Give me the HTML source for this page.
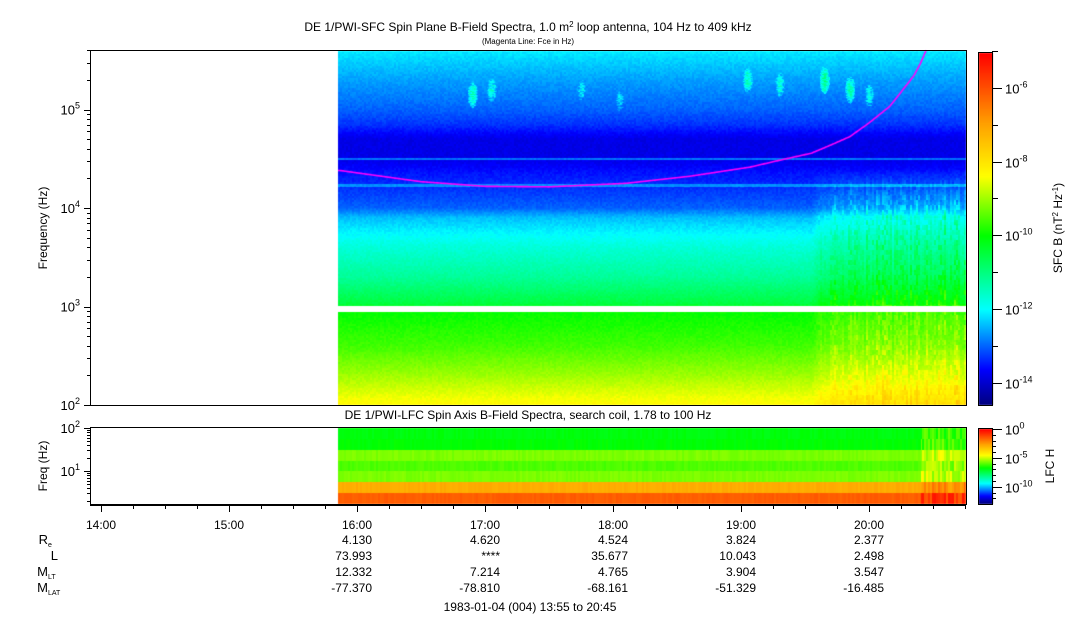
<!DOCTYPE html>
<html><head><meta charset="utf-8"><style>
html,body{margin:0;padding:0;background:#fff;}
#wrap{position:relative;width:1083px;height:620px;overflow:hidden;font-family:"Liberation Sans",Arial,sans-serif;}
canvas{position:absolute;left:0;top:0;}
svg{position:absolute;left:0;top:0;}
text{font-family:"Liberation Sans",Arial,sans-serif;fill:#000;}
</style></head><body>
<div id="wrap">
<canvas id="cv" width="1083" height="620"></canvas>
<svg id="sv" width="1083" height="620">
<text x="528" y="31" font-size="12" text-anchor="middle">DE 1/PWI-SFC  Spin Plane B-Field Spectra, 1.0 m<tspan font-size="8" dy="-4">2</tspan><tspan dy="4"> loop antenna, 104 Hz to 409 kHz</tspan></text>
<text x="528" y="44" font-size="8" text-anchor="middle">(Magenta Line: Fce in Hz)</text>
<text x="528" y="419" font-size="12" text-anchor="middle">DE 1/PWI-LFC  Spin Axis B-Field Spectra, search coil, 1.78 to 100 Hz</text>
<text transform="translate(47,228) rotate(-90)" font-size="12" text-anchor="middle">Frequency (Hz)</text>
<text transform="translate(47,466) rotate(-90)" font-size="12" text-anchor="middle">Freq (Hz)</text>
<text transform="translate(1062,228) rotate(-90)" font-size="12" text-anchor="middle">SFC B (nT<tspan font-size="8" dy="-4">2</tspan><tspan dy="4"> Hz</tspan><tspan font-size="8" dy="-4">-1</tspan><tspan dy="4">)</tspan></text>
<text transform="translate(1054,466) rotate(-90)" font-size="12" text-anchor="middle">LFC H</text>
<text x="530" y="611" font-size="12" text-anchor="middle">1983-01-04 (004) 13:55 to 20:45</text>
</svg>
</div>
<script>
// ---- data ----
const sfcLogFreq = [2.0,2.3,2.6,2.95,3.03,3.3,3.6,3.9,4.0,4.2,4.35,4.5,4.7,4.85,5.0,5.3,5.61];
const sfcPower   = [-8.3,-9.0,-9.6,-10.0,-10.5,-11.2,-11.7,-12.4,-13.0,-13.3,-13.5,-13.8,-13.8,-13.3,-13.0,-12.6,-12.1];
const sfcLineFreq = [4.23,4.5];
const sfcLinePower = [-12.7,-12.9];
const actHours = [19.55,19.65,19.75,20.0,20.3,20.55,20.62,20.75];
const actLevel = [0,0.6,0.9,1.0,1.0,1.1,1.4,0.8];
const blobHours = [16.9,17.05,17.75,18.05,19.05,19.3,19.65,19.85,20.0];
const blobLogF  = [5.15,5.2,5.2,5.1,5.3,5.25,5.3,5.2,5.15];
const blobPower = [-11.9,-12.2,-12.5,-12.6,-11.9,-12.1,-11.6,-11.8,-12.3];
const fceHours = [15.87,16.5,17.0,17.5,18.1,18.6,19.07,19.3,19.55,19.7,19.85,20.0,20.16,20.25,20.35,20.4,20.45];
const fceHz    = [24000,18500,16600,16400,17800,21000,26000,30500,36000,43500,53000,73000,107000,150000,220000,290000,409000];
const lfcPower = [-1.5,-2.8,-5.6,-6.0,-5.6,-6.7,-6.8];
const timeTicks = ["14:00","15:00","16:00","17:00","18:00","19:00","20:00"];
const orbitHours = [16,17,18,19,20];
const orbitRe = ["4.130","4.620","4.524","3.824","2.377"];
const orbitL = ["73.993","****","35.677","10.043","2.498"];
const orbitMLT = ["12.332","7.214","4.765","3.904","3.547"];
const orbitMLAT = ["-77.370","-78.810","-68.161","-51.329","-16.485"];

// ---- geometry ----
const X0=90, X1=966, DATA_H0=15.85;
const xOf = h => 101 + (h-14)*128;
const hOf = x => 14 + (x-101)/128;
const TY0=51, TY1=405, DEC=98.5;
const yTop = lf => 405 - (lf-2)*DEC;
const lfTop = y => 2 + (405-y)/DEC;
const BY0=428, BY1=504, BDEC=43;
const yBot = lf => 471 - (lf-1)*BDEC;

function interp(xs, ys, x){
  if(x<=xs[0]) return ys[0];
  if(x>=xs[xs.length-1]) return ys[ys.length-1];
  for(let i=1;i<xs.length;i++){ if(x<=xs[i]){const t=(x-xs[i-1])/(xs[i]-xs[i-1]); return ys[i-1]+t*(ys[i]-ys[i-1]);} }
}
const cstops=[[0,0,0,128],[0.10,0,0,255],[0.27,0,255,255],[0.48,0,255,0],[0.65,255,255,0],[0.8,255,160,0],[1,255,0,0]];
function cmap(t){
  t=Math.max(0,Math.min(1,t));
  for(let i=1;i<cstops.length;i++){ if(t<=cstops[i][0]){const a=cstops[i-1],b=cstops[i],u=(t-a[0])/(b[0]-a[0]);
    return [a[1]+u*(b[1]-a[1]),a[2]+u*(b[2]-a[2]),a[3]+u*(b[3]-a[3])];}}
  return [255,0,0];
}
function hash(a,b){let n=(a*374761393+b*668265263)|0; n=(n^(n>>>13))*1274126177|0; return ((n^(n>>>16))>>>0)/4294967295;}

const cv=document.getElementById('cv'), ctx=cv.getContext('2d');
const img=ctx.createImageData(1083,620), d=img.data;
function put(x,y,c){const i=(y*1083+x)*4; d[i]=c[0];d[i+1]=c[1];d[i+2]=c[2];d[i+3]=255;}
const SMIN=-14.57, SMAX=-5.06;
const xStart=Math.round(xOf(DATA_H0));
for(let x=xStart;x<X1;x++){
  const h=hOf(x), col=Math.floor(x/2);
  const act=interp(actHours,actLevel,h);
  const colAct=hash(col,7);
  for(let y=TY0;y<TY1;y++){
    const lf=lfTop(y+0.5);
    if(lf>2.94 && lf<3.01) continue;
    let p=interp(sfcLogFreq,sfcPower,lf);
    for(let k=0;k<sfcLineFreq.length;k++){ if(Math.abs(lf-sfcLineFreq[k])<0.012) p=Math.max(p,sfcLinePower[k]); }
    for(let k=0;k<blobHours.length;k++){
      const dx=(h-blobHours[k])/0.04, dy=(lf-blobLogF[k])/0.14, r=dx*dx+dy*dy;
      if(r<1) p=Math.max(p, blobPower[k]+(1-r)*0.4 - 0.8*r + (hash(col,y)-0.5)*0.8);
    }
    p+=(hash(col,Math.floor(y/2))-0.5)*0.2;
    if(act>0 && lf<4.4){
      const w = lf>3.9 ? 1.2*(4.4-lf)/0.5 : (lf>3.0?1.0:0.8);
      const streak = 0.3+0.9*colAct*hash(col,Math.floor(y/5)+999);
      p+=act*w*streak;
    }
    put(x,y,cmap((p-SMIN)/(SMAX-SMIN)));
  }
}
// LFC
const BMIN=-12.8, BMAX=0;
const lfcEdges=[0.23]; for(let i=1;i<=7;i++) lfcEdges.push(0.23+i*(2.0-0.23)/7);
for(let x=xStart;x<X1;x++){
  const h=hOf(x), col=Math.floor(x/2);
  for(let y=BY0;y<BY1;y++){
    const lf=1+(471-(y+0.5))/BDEC;
    let b=0; for(let k=0;k<7;k++){ if(lf>=lfcEdges[k]) b=k; }
    let p=lfcPower[b]+(hash(col,b)-0.5)*0.25;
    if(h>20.4) p+=1.2*hash(col,b+50);
    put(x,y,cmap((p-BMIN)/(BMAX-BMIN)));
  }
}
// colorbars
for(let y=53;y<405;y++){const c=cmap((404-y)/351); for(let x=979;x<993;x++) put(x,y,c);}
for(let y=429;y<504;y++){const c=cmap((503-y)/74); for(let x=979;x<993;x++) put(x,y,c);}
ctx.putImageData(img,0,0);
// Fce line
const fceLog=fceHz.map(v=>Math.log10(v));
ctx.strokeStyle='#ff00ff'; ctx.lineWidth=1.6; ctx.beginPath();
let first=true;
for(let x=xStart;x<X1;x++){
  const h=hOf(x); if(h>fceHours[fceHours.length-1]) break;
  const y=yTop(interp(fceHours,fceLog,h)); if(first){ctx.moveTo(x,y);first=false;} else ctx.lineTo(x,y);
}
ctx.stroke();

// ---- SVG axes ----
const sv=document.getElementById('sv'), NS='http://www.w3.org/2000/svg';
function el(tag,attrs,txt){const e=document.createElementNS(NS,tag);for(const k in attrs)e.setAttribute(k,attrs[k]);if(txt!==undefined)e.textContent=txt;sv.appendChild(e);return e;}
function line(x1,y1,x2,y2){return el('line',{x1,y1,x2,y2,stroke:'#000','stroke-width':1});}
function pow10(x,y,exp,anchor,name){
  const t=el('text',{x,y,'font-size':13,'text-anchor':anchor});
  
  
  const s1=document.createElementNS(NS,'tspan'); s1.textContent='10'; t.appendChild(s1);
  const s2=document.createElementNS(NS,'tspan'); s2.setAttribute('font-size','9'); s2.setAttribute('dy','-6'); s2.textContent=exp; t.appendChild(s2);
  return t;
}
let f=el('rect',{x:90.5,y:50.5,width:876,height:355,fill:'none',stroke:'#000'});


f=el('rect',{x:90.5,y:427.5,width:876,height:77,fill:'none',stroke:'#000'});


for(let e=2;e<=5;e++){
  for(let m=1;m<10;m++){
    const lf=e+Math.log10(m); if(lf>5.612) break;
    const y=Math.round(yTop(lf))+0.5; line(90,y,m===1?84:87,y);
  }
  pow10(80,yTop(e)+5,String(e),'end','y-tick-label-top');
}
for(let e=0;e<=2;e++){
  for(let m=1;m<10;m++){
    const lf=e+Math.log10(m); if(lf<0.23||lf>2.001) continue;
    const y=Math.round(yBot(lf))+0.5; line(90,y,m===1?84:87,y);
  }
  if(e>=1) pow10(80,yBot(e)+5,String(e),'end','y-tick-label-bottom');
}
line(90,505.5,966,505.5);
for(let q=0;q<=27;q++){
  const h=14+q*0.25; const x=Math.round(xOf(h))+0.5; if(x>966) break;
  line(x,505,x,q%4===0?512:509);
}
timeTicks.forEach((lab,i)=>{
  const t=el('text',{x:xOf(14+i),y:529,'font-size':12,'text-anchor':'middle'},lab);
  
  
});
const rowY=[544,560,576,592];
const rowVals=[orbitRe,orbitL,orbitMLT,orbitMLAT];
const rowLab=[['R','e'],['L',''],['M','LT'],['M','LAT']];
rowLab.forEach((r,i)=>{
  const t=el('text',{x:r[1]?48:58,y:rowY[i],'font-size':13,'text-anchor':'end'});
  
  
  t.textContent=r[0];
  if(r[1]){const s=el('text',{x:48,y:rowY[i]+3,'font-size':7},r[1]);  }
  rowVals[i].forEach((v,j)=>{
    const tv=el('text',{x:xOf(orbitHours[j])+15,y:rowY[i],'font-size':12,'text-anchor':'end'},v);
    
    
  });
});
f=el('rect',{x:978.5,y:52.5,width:14,height:353,fill:'none',stroke:'#000'});


for(let e=-14;e<=-5;e++){
  const y=Math.round(404-(e-SMIN)/(SMAX-SMIN)*351)+0.5;
  line(992,y,e%2===0?1002:998,y);
  if(e%2===0) pow10(1005,y+5,String(e),'start','sfc-colorbar-tick-label');
}
f=el('rect',{x:978.5,y:428.5,width:14,height:76,fill:'none',stroke:'#000'});


for(let e=-12;e<=0;e++){
  const y=Math.round(503-(e-BMIN)/(BMAX-BMIN)*74)+0.5;
  line(992,y,e%5===0?1002:996,y);
  if(e%5===0) pow10(1005,y+5,String(e),'start','lfc-colorbar-tick-label');
}
</script>
</body></html>
